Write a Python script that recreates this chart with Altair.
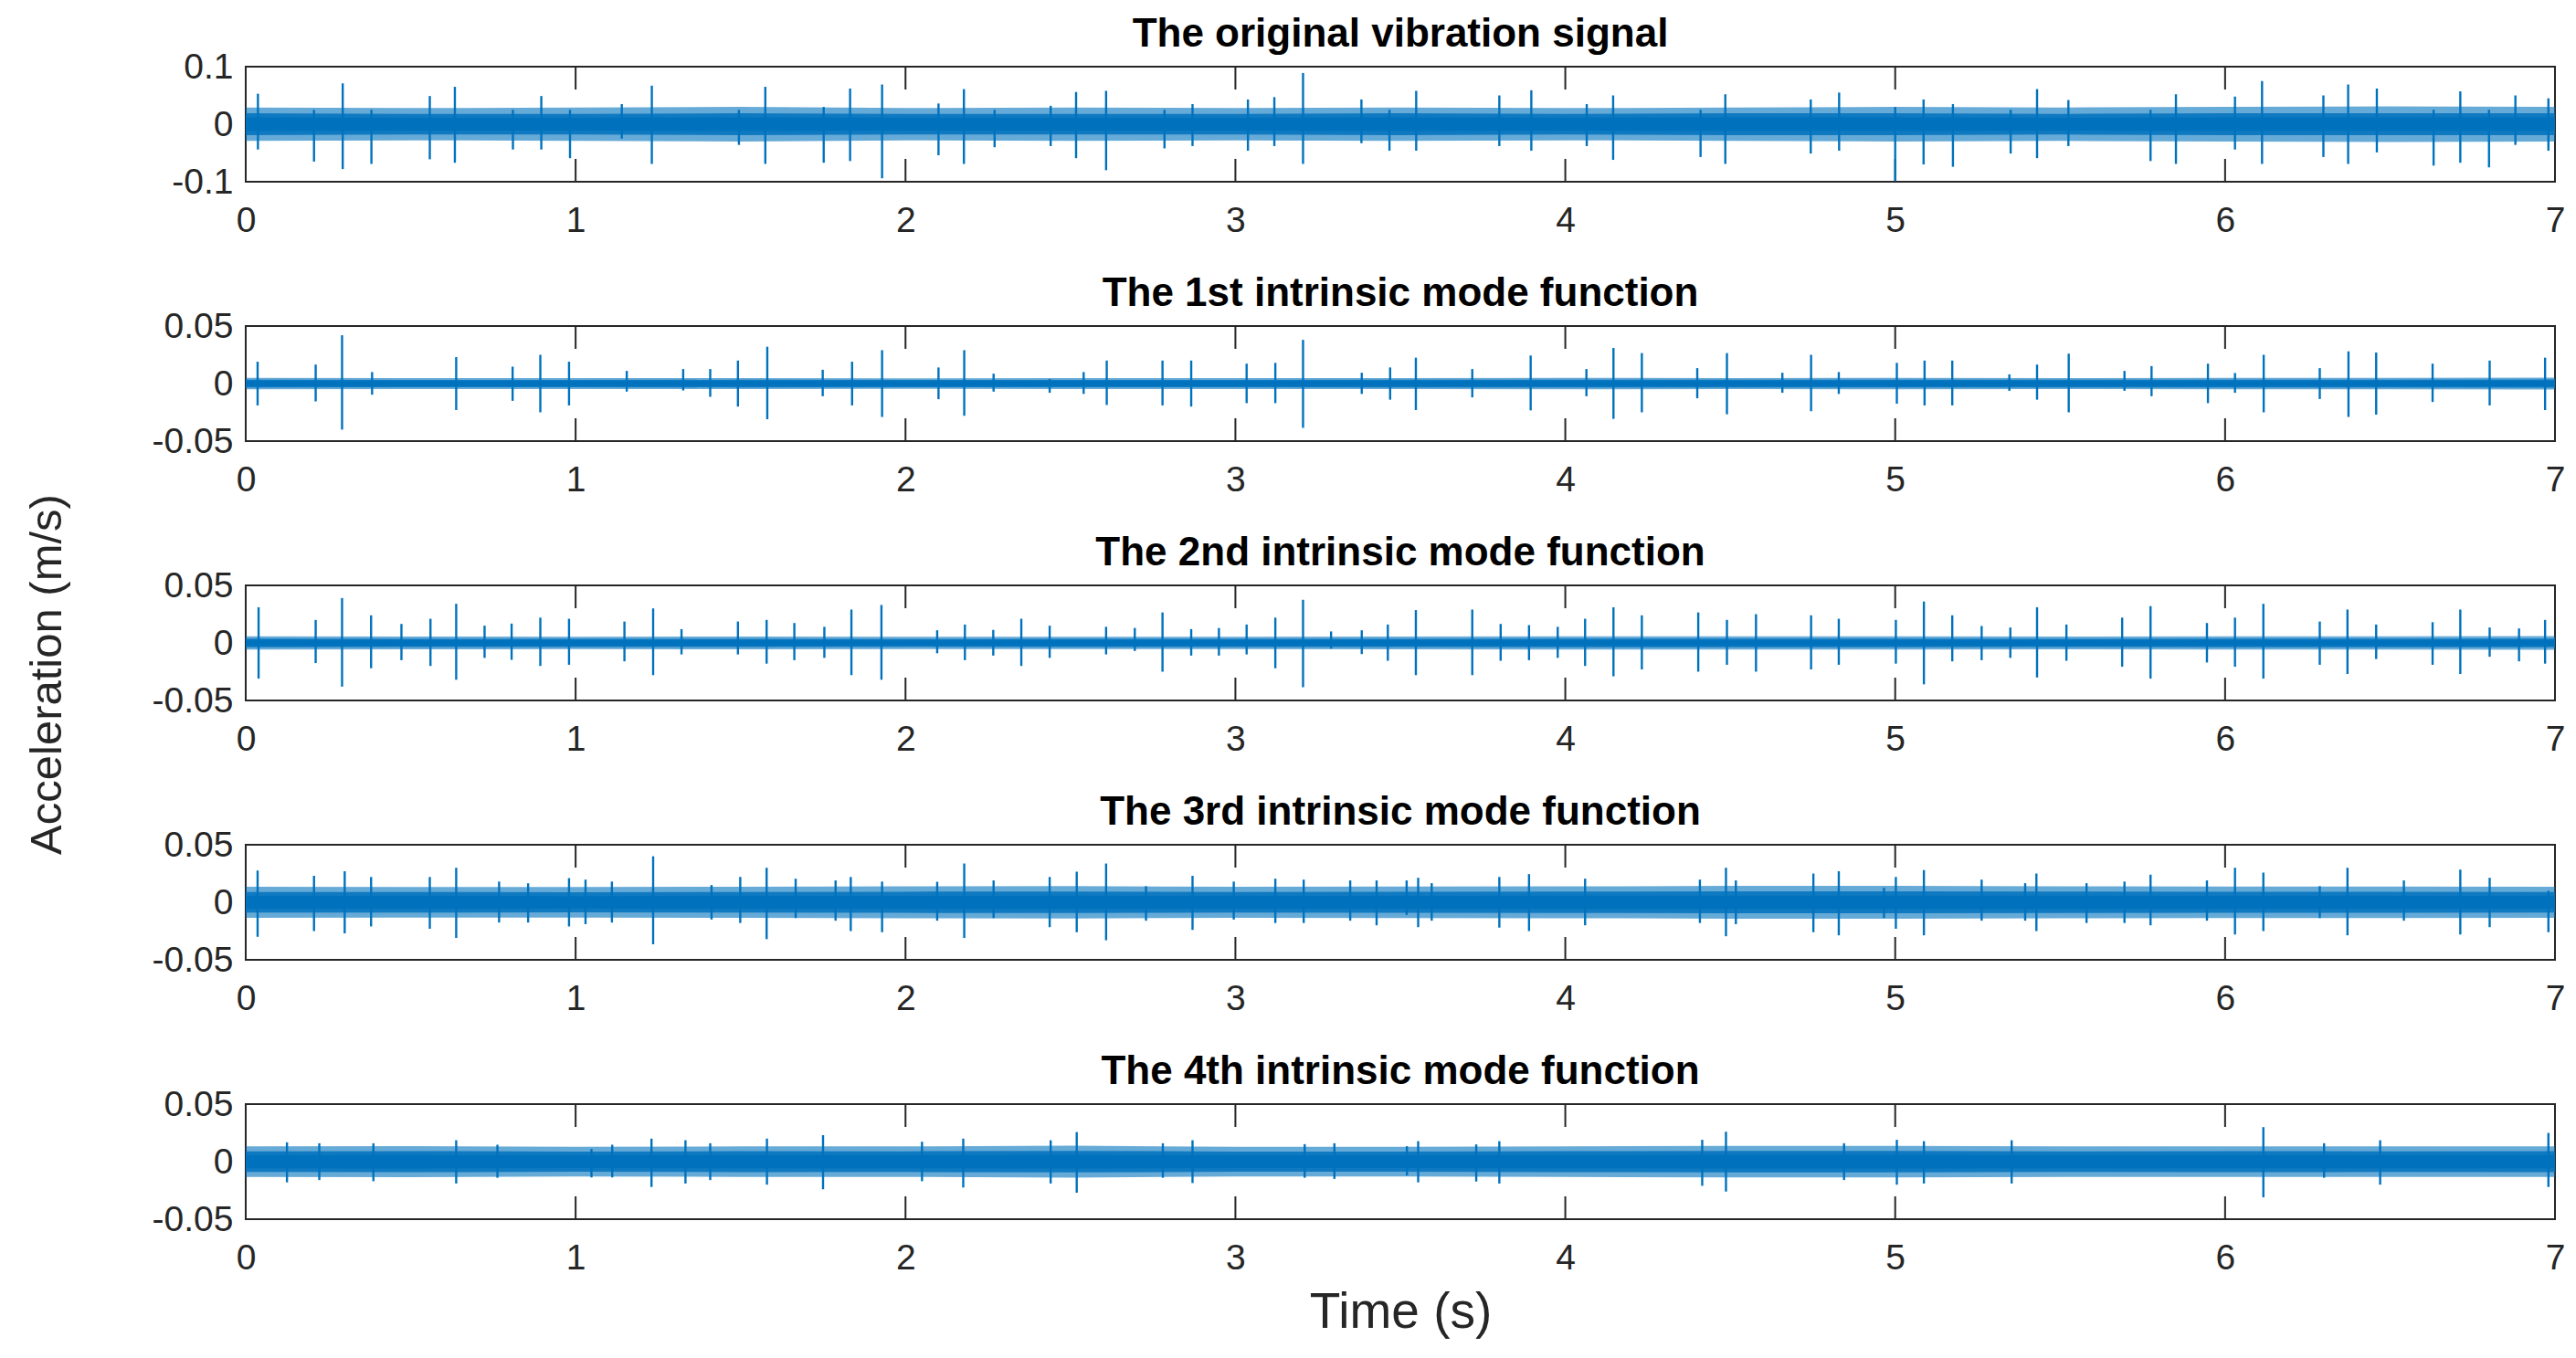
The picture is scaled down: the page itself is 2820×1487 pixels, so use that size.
import altair as alt
import pandas as pd

W, H = 2528, 126
BLUE = "#0072BD"
AX = "#262626"
FONT = "Liberation Sans"

time_ticks = [0, 1, 2, 3, 4, 5, 6, 7]
band_t = [0.0, 0.5, 1.0, 1.5, 2.0, 2.5, 3.0, 3.5, 4.0, 4.5, 5.0, 5.5, 6.0, 6.5, 7.0]

titles = [
    "The original vibration signal",
    "The 1st intrinsic mode function",
    "The 2nd intrinsic mode function",
    "The 3rd intrinsic mode function",
    "The 4th intrinsic mode function",
]
y_limits = [0.1, 0.05, 0.05, 0.05, 0.05]

# half-widths of the dense signal band (core / mid / outer fuzz), read every 0.5 s
core1 = [0.012, 0.011, 0.011, 0.012, 0.011, 0.011, 0.011, 0.012, 0.011, 0.012, 0.012, 0.011, 0.012, 0.012, 0.012]
mid1 = [0.019, 0.018, 0.018, 0.019, 0.018, 0.018, 0.018, 0.019, 0.018, 0.019, 0.019, 0.018, 0.019, 0.019, 0.019]
outer1 = [0.029, 0.028, 0.029, 0.030, 0.028, 0.029, 0.028, 0.029, 0.028, 0.029, 0.030, 0.029, 0.030, 0.031, 0.030]

core2 = [0.0024, 0.0022, 0.0022, 0.0022, 0.0021, 0.0022, 0.0022, 0.0022, 0.0023, 0.0022, 0.0023, 0.0022, 0.0022, 0.0023, 0.0024]
mid2 = [0.0034, 0.0032, 0.0032, 0.0033, 0.0031, 0.0032, 0.0032, 0.0033, 0.0034, 0.0033, 0.0034, 0.0033, 0.0033, 0.0034, 0.0035]
outer2 = [0.0050, 0.0047, 0.0048, 0.0048, 0.0046, 0.0047, 0.0047, 0.0048, 0.0050, 0.0048, 0.0050, 0.0048, 0.0049, 0.0050, 0.0052]

core3 = [0.0025, 0.0023, 0.0023, 0.0023, 0.0022, 0.0023, 0.0023, 0.0023, 0.0024, 0.0024, 0.0024, 0.0023, 0.0024, 0.0024, 0.0025]
mid3 = [0.0038, 0.0035, 0.0035, 0.0035, 0.0034, 0.0035, 0.0035, 0.0036, 0.0037, 0.0037, 0.0037, 0.0036, 0.0037, 0.0037, 0.0038]
outer3 = [0.0058, 0.0055, 0.0054, 0.0055, 0.0053, 0.0054, 0.0054, 0.0056, 0.0058, 0.0057, 0.0058, 0.0056, 0.0057, 0.0057, 0.0059]

core4 = [0.0055, 0.0055, 0.0054, 0.0055, 0.0056, 0.0057, 0.0055, 0.0056, 0.0057, 0.0058, 0.0058, 0.0057, 0.0056, 0.0056, 0.0055]
mid4 = [0.0090, 0.0089, 0.0088, 0.0090, 0.0092, 0.0094, 0.0090, 0.0092, 0.0093, 0.0095, 0.0095, 0.0093, 0.0092, 0.0091, 0.0090]
outer4 = [0.0135, 0.0133, 0.0132, 0.0135, 0.0138, 0.0140, 0.0134, 0.0137, 0.0138, 0.0142, 0.0142, 0.0139, 0.0137, 0.0136, 0.0134]

core5 = [0.0058, 0.0059, 0.0056, 0.0058, 0.0057, 0.0060, 0.0056, 0.0056, 0.0058, 0.0059, 0.0059, 0.0057, 0.0058, 0.0057, 0.0058]
mid5 = [0.0090, 0.0092, 0.0088, 0.0091, 0.0090, 0.0094, 0.0088, 0.0088, 0.0091, 0.0093, 0.0093, 0.0090, 0.0091, 0.0090, 0.0091]
outer5 = [0.0132, 0.0135, 0.0128, 0.0133, 0.0132, 0.0138, 0.0128, 0.0128, 0.0133, 0.0136, 0.0136, 0.0132, 0.0133, 0.0132, 0.0133]

# impulses: (time s, positive peak, negative peak)
spikes1 = [
    (0.037, 0.053, -0.044), (0.207, 0.025, -0.065), (0.294, 0.071, -0.078), (0.381, 0.025, -0.069),
    (0.558, 0.049, -0.061), (0.634, 0.065, -0.067), (0.81, 0.025, -0.044), (0.896, 0.049, -0.044),
    (0.983, 0.025, -0.059), (1.14, 0.035, -0.025), (1.231, 0.067, -0.069), (1.495, 0.025, -0.036),
    (1.575, 0.065, -0.069), (1.752, 0.030, -0.067), (1.832, 0.062, -0.064), (1.929, 0.069, -0.094),
    (2.10, 0.036, -0.054), (2.177, 0.061, -0.069), (2.27, 0.025, -0.040), (2.44, 0.032, -0.038),
    (2.517, 0.056, -0.059), (2.608, 0.058, -0.080), (2.785, 0.025, -0.042), (2.87, 0.035, -0.038),
    (3.038, 0.043, -0.046), (3.118, 0.047, -0.038), (3.205, 0.089, -0.069), (3.382, 0.043, -0.033),
    (3.467, 0.025, -0.046), (3.548, 0.058, -0.046), (3.80, 0.050, -0.038), (3.897, 0.059, -0.046),
    (4.065, 0.035, -0.038), (4.145, 0.050, -0.062), (4.41, 0.025, -0.057), (4.485, 0.052, -0.069),
    (4.744, 0.043, -0.051), (4.83, 0.055, -0.046), (5.0, 0.030, -0.099), (5.086, 0.043, -0.070),
    (5.175, 0.035, -0.074), (5.35, 0.025, -0.051), (5.43, 0.061, -0.059), (5.525, 0.042, -0.038),
    (5.774, 0.025, -0.064), (5.851, 0.052, -0.069), (6.03, 0.048, -0.044), (6.112, 0.075, -0.069),
    (6.298, 0.050, -0.057), (6.373, 0.069, -0.069), (6.46, 0.062, -0.049), (6.632, 0.025, -0.072),
    (6.713, 0.057, -0.067), (6.80, 0.025, -0.075), (6.88, 0.050, -0.036), (6.98, 0.045, -0.046),
]
spikes2 = [
    (0.036, 0.019, -0.019), (0.212, 0.0165, -0.0155), (0.292, 0.042, -0.040), (0.383, 0.010, -0.0097),
    (0.638, 0.023, -0.023), (0.809, 0.0147, -0.015), (0.893, 0.025, -0.025), (0.98, 0.019, -0.019),
    (1.155, 0.011, -0.007), (1.326, 0.0126, -0.006), (1.408, 0.0126, -0.0115), (1.492, 0.020, -0.020),
    (1.581, 0.032, -0.031), (1.749, 0.012, -0.011), (1.838, 0.019, -0.019), (1.929, 0.029, -0.029),
    (2.10, 0.014, -0.0136), (2.178, 0.029, -0.028), (2.267, 0.0086, -0.007), (2.437, 0.004, -0.008),
    (2.54, 0.010, -0.009), (2.61, 0.020, -0.0186), (2.779, 0.020, -0.019), (2.866, 0.020, -0.020),
    (3.034, 0.0173, -0.017), (3.121, 0.018, -0.017), (3.205, 0.038, -0.0385), (3.383, 0.0094, -0.009),
    (3.469, 0.014, -0.014), (3.547, 0.0225, -0.023), (3.718, 0.0126, -0.012), (3.895, 0.0244, -0.0233),
    (4.064, 0.0126, -0.011), (4.146, 0.031, -0.0307), (4.232, 0.0265, -0.025), (4.40, 0.0134, -0.0128),
    (4.49, 0.0265, -0.0267), (4.658, 0.0094, -0.008), (4.745, 0.025, -0.024), (4.829, 0.010, -0.009),
    (5.005, 0.018, -0.0175), (5.089, 0.020, -0.019), (5.173, 0.020, -0.019), (5.346, 0.008, -0.0063),
    (5.43, 0.0165, -0.014), (5.526, 0.026, -0.025), (5.695, 0.011, -0.0063), (5.777, 0.0152, -0.011),
    (5.948, 0.0173, -0.017), (6.03, 0.0092, -0.008), (6.117, 0.025, -0.025), (6.287, 0.0134, -0.0134),
    (6.374, 0.028, -0.029), (6.458, 0.027, -0.027), (6.629, 0.0173, -0.016), (6.802, 0.020, -0.019),
    (6.97, 0.0225, -0.023),
]
spikes3 = [
    (0.039, 0.031, -0.031), (0.212, 0.020, -0.0175), (0.292, 0.039, -0.038), (0.38, 0.024, -0.022),
    (0.472, 0.0165, -0.015), (0.56, 0.021, -0.020), (0.638, 0.034, -0.032), (0.724, 0.015, -0.013),
    (0.806, 0.0168, -0.0147), (0.893, 0.022, -0.020), (0.98, 0.021, -0.019), (1.148, 0.0186, -0.016),
    (1.235, 0.030, -0.028), (1.321, 0.012, -0.010), (1.492, 0.0186, -0.010), (1.579, 0.020, -0.018),
    (1.663, 0.0173, -0.015), (1.754, 0.014, -0.013), (1.836, 0.029, -0.028), (1.927, 0.033, -0.032),
    (2.096, 0.011, -0.009), (2.18, 0.016, -0.015), (2.266, 0.0113, -0.011), (2.351, 0.021, -0.020),
    (2.437, 0.015, -0.013), (2.608, 0.014, -0.010), (2.695, 0.013, -0.007), (2.779, 0.0265, -0.025),
    (2.866, 0.012, -0.011), (2.95, 0.013, -0.011), (3.034, 0.016, -0.010), (3.121, 0.022, -0.022),
    (3.205, 0.0375, -0.0385), (3.29, 0.010, -0.005), (3.383, 0.011, -0.0097), (3.462, 0.016, -0.0155),
    (3.547, 0.0285, -0.028), (3.718, 0.029, -0.028), (3.804, 0.0165, -0.0155), (3.89, 0.0155, -0.015),
    (3.977, 0.014, -0.013), (4.06, 0.021, -0.020), (4.146, 0.031, -0.029), (4.232, 0.024, -0.023),
    (4.403, 0.0265, -0.025), (4.49, 0.020, -0.019), (4.578, 0.025, -0.025), (4.745, 0.024, -0.023),
    (4.829, 0.021, -0.019), (5.002, 0.020, -0.018), (5.087, 0.036, -0.036), (5.173, 0.024, -0.016),
    (5.262, 0.0147, -0.015), (5.349, 0.0134, -0.013), (5.43, 0.031, -0.030), (5.519, 0.016, -0.0155),
    (5.688, 0.022, -0.0207), (5.774, 0.032, -0.031), (5.945, 0.0173, -0.017), (6.03, 0.022, -0.0207),
    (6.116, 0.034, -0.031), (6.287, 0.0186, -0.019), (6.371, 0.029, -0.027), (6.458, 0.016, -0.014),
    (6.629, 0.018, -0.019), (6.713, 0.029, -0.027), (6.802, 0.0134, -0.012), (6.891, 0.0126, -0.016),
    (6.97, 0.020, -0.018),
]
spikes4 = [
    (0.036, 0.0276, -0.030), (0.207, 0.023, -0.025), (0.30, 0.027, -0.027), (0.38, 0.022, -0.021),
    (0.558, 0.022, -0.023), (0.638, 0.030, -0.031), (0.768, 0.018, -0.0176), (0.856, 0.0165, -0.0176),
    (0.98, 0.021, -0.021), (1.03, 0.0197, -0.019), (1.11, 0.018, -0.0176), (1.235, 0.040, -0.0365),
    (1.412, 0.015, -0.015), (1.499, 0.022, -0.018), (1.579, 0.030, -0.032), (1.667, 0.0205, -0.0137),
    (1.788, 0.019, -0.016), (1.834, 0.022, -0.025), (1.929, 0.018, -0.026), (2.096, 0.0178, -0.016),
    (2.178, 0.0337, -0.031), (2.267, 0.019, -0.0137), (2.437, 0.022, -0.0216), (2.519, 0.0266, -0.026),
    (2.608, 0.0337, -0.033), (2.729, 0.014, -0.016), (2.87, 0.023, -0.024), (2.995, 0.018, -0.015),
    (3.121, 0.0205, -0.018), (3.207, 0.0197, -0.018), (3.348, 0.019, -0.016), (3.428, 0.019, -0.020),
    (3.519, 0.019, -0.011), (3.554, 0.0213, -0.0216), (3.595, 0.0166, -0.016), (3.80, 0.022, -0.022),
    (3.89, 0.0245, -0.025), (4.06, 0.0205, -0.020), (4.408, 0.0197, -0.018), (4.487, 0.030, -0.0295),
    (4.517, 0.019, -0.019), (4.752, 0.025, -0.026), (4.829, 0.027, -0.0287), (4.966, 0.0126, -0.0137),
    (5.002, 0.022, -0.023), (5.087, 0.028, -0.0287), (5.262, 0.0197, -0.016), (5.394, 0.0166, -0.016),
    (5.428, 0.025, -0.025), (5.58, 0.0166, -0.018), (5.695, 0.018, -0.018), (5.774, 0.024, -0.020),
    (5.945, 0.019, -0.016), (6.03, 0.030, -0.028), (6.116, 0.0258, -0.025), (6.287, 0.014, -0.0137),
    (6.371, 0.030, -0.0287), (6.542, 0.019, -0.016), (6.713, 0.0284, -0.028), (6.802, 0.0213, -0.0216),
    (6.98, 0.010, -0.026),
]
spikes5 = [
    (0.125, 0.0168, -0.018), (0.223, 0.016, -0.016), (0.387, 0.016, -0.017), (0.638, 0.0186, -0.019),
    (0.763, 0.0147, -0.014), (1.048, 0.011, -0.0137), (1.111, 0.0147, -0.0137), (1.23, 0.020, -0.022),
    (1.333, 0.0186, -0.019), (1.408, 0.016, -0.016), (1.58, 0.020, -0.020), (1.75, 0.023, -0.024),
    (2.05, 0.0173, -0.017), (2.175, 0.020, -0.0225), (2.44, 0.0186, -0.019), (2.519, 0.0257, -0.027),
    (2.78, 0.016, -0.014), (2.87, 0.0186, -0.0186), (3.21, 0.0152, -0.014), (3.30, 0.016, -0.015),
    (3.52, 0.0134, -0.012), (3.554, 0.0178, -0.018), (3.73, 0.015, -0.0173), (3.80, 0.0178, -0.019),
    (4.415, 0.019, -0.021), (4.487, 0.026, -0.026), (4.845, 0.016, -0.016), (5.005, 0.019, -0.020),
    (5.087, 0.0178, -0.019), (5.353, 0.0186, -0.019), (6.116, 0.030, -0.031), (6.30, 0.016, -0.014),
    (6.47, 0.0186, -0.020), (6.98, 0.025, -0.022),
]

bands = [(core1, mid1, outer1), (core2, mid2, outer2), (core3, mid3, outer3),
         (core4, mid4, outer4), (core5, mid5, outer5)]
spike_sets = [spikes1, spikes2, spikes3, spikes4, spikes5]

TICK = 25


def panel(i):
    core, mid, outer = bands[i]
    lim = y_limits[i]
    band = pd.DataFrame({"t": band_t, "c": core, "m": mid, "o": outer})
    band["cn"] = -band["c"]
    band["mn"] = -band["m"]
    band["on"] = -band["o"]
    sp = pd.DataFrame(spike_sets[i], columns=["t", "top", "bot"])
    xt = pd.DataFrame({"t": time_ticks[1:-1]})
    yt = pd.DataFrame({"t": [3.5], "v": [0.0]})
    tt = pd.DataFrame({"title": [titles[i]]})

    xs = alt.Scale(domain=[0, 7], nice=False, zero=False)
    ys = alt.Scale(domain=[-lim, lim], nice=False, zero=False)

    xkw = dict(values=time_ticks, labelPadding=23, labelFlush=False, labelOverlap=False,
               labelBound=False, title="")
    if i == 4:
        xkw.update(title="Time (s)", titleFont=FONT, titleFontSize=55, titleFontWeight="normal",
                   titleColor=AX, titleY=118, titleBaseline="alphabetic")
    ykw = dict(values=[-lim, 0, lim], labelExpr="'' + datum.value", labelPadding=14,
               labelFlush=False, labelOverlap=False, labelBound=False, title="")
    if i == 2:
        ykw.update(title="Acceleration (m/s)", titleFont=FONT, titleFontSize=49,
                   titleFontWeight="normal", titleColor=AX, titleX=-218, titleY=97,
                   titleAngle=270, titleAlign="center", titleBaseline="middle")
    xax = alt.Axis(**xkw)
    yax = alt.Axis(**ykw)

    def X(f="t:Q"):
        return alt.X(f, scale=xs, axis=xax)

    def Y(f):
        return alt.Y(f, scale=ys, axis=yax)

    tick_top = alt.Chart(xt).mark_rule(color=AX, strokeWidth=2).encode(
        x=X(), y=alt.value(0), y2=alt.value(TICK))
    tick_bot = alt.Chart(xt).mark_rule(color=AX, strokeWidth=2).encode(
        x=X(), y=alt.value(H - TICK), y2=alt.value(H))
    tick_l = alt.Chart(yt).mark_rule(color=AX, strokeWidth=2).encode(
        y=Y("v:Q"), x=alt.value(0), x2=alt.value(TICK))
    tick_r = alt.Chart(yt).mark_rule(color=AX, strokeWidth=2).encode(
        y=Y("v:Q"), x=alt.value(W - TICK), x2=alt.value(W))

    outer_a = alt.Chart(band).mark_area(color=BLUE, opacity=0.6).encode(
        x=X(), y=Y("on:Q"), y2="o:Q")
    mid_a = alt.Chart(band).mark_area(color=BLUE, opacity=0.85).encode(
        x=X(), y=Y("mn:Q"), y2="m:Q")
    core_a = alt.Chart(band).mark_area(color=BLUE, opacity=1).encode(
        x=X(), y=Y("cn:Q"), y2="c:Q")
    spk = alt.Chart(sp).mark_rule(color=BLUE, strokeWidth=2.4).encode(
        x=X(), y=Y("top:Q"), y2="bot:Q")
    ttl = alt.Chart(tt).mark_text(font=FONT, fontSize=44, fontWeight="bold", color="black",
                                  align="center", baseline="alphabetic").encode(
        x=alt.value(W / 2), y=alt.value(-22), text="title:N")

    return alt.layer(tick_top, tick_bot, tick_l, tick_r, outer_a, mid_a, core_a, spk, ttl).properties(
        width=W, height=H)


chart = alt.vconcat(*[panel(i) for i in range(5)], spacing=158, bounds="flush").properties(
    padding={"left": 18, "top": 7, "right": 0, "bottom": 4}
).configure_view(stroke=AX, strokeWidth=2).configure_axis(
    labelFont=FONT, labelFontSize=39, labelColor=AX, domain=False, ticks=False, grid=False
)

chart.save("out.html", embed_options={"renderer": "svg", "actions": False})
